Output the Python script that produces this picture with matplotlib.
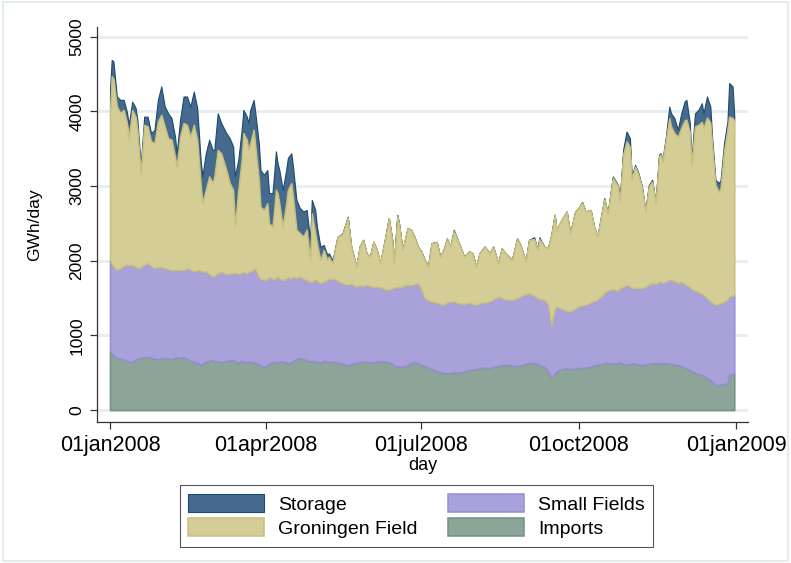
import matplotlib.pyplot as plt
from matplotlib.patches import Rectangle

plt.rcParams['font.family'] = ['Liberation Sans', 'DejaVu Sans']

# day of year (0 = 01jan2008)
days = [0, 1, 2, 4, 6, 8, 10, 11, 13, 15, 16, 18, 20, 22, 24, 26, 28, 30, 32, 34,
        36, 38, 39, 41, 43, 45, 47, 49, 51, 53, 54, 56, 58, 60, 61, 63, 65, 68, 70, 72,
        73, 75, 77, 78, 80, 81, 82, 84, 85, 87, 88, 90, 92, 93, 95, 96, 97, 98, 99, 101,
        103, 104, 106, 107, 109, 111, 113, 115, 117, 118, 120, 121, 123, 125, 127, 128, 130, 131, 133, 136,
        139, 141, 144, 146, 148, 150, 152, 154, 156, 158, 161, 163, 165, 166, 168, 169, 171, 174, 176, 178,
        180, 182, 184, 186, 188, 191, 193, 195, 197, 199, 201, 204, 207, 210, 212, 214, 216, 219, 222, 224,
        227, 229, 232, 235, 238, 240, 243, 245, 248, 250, 251, 254, 256, 258, 260, 261, 264, 267, 269, 272,
        274, 276, 278, 281, 283, 285, 288, 289, 291, 294, 297, 298, 300, 302, 304, 305, 307, 309, 311, 313,
        315, 317, 319, 321, 322, 323, 325, 327, 328, 330, 332, 334, 336, 337, 339, 340, 342, 344, 346, 347,
        349, 351, 352, 354, 356, 357, 359, 361, 362, 364, 365]

imports = [780, 760, 730, 700, 690, 680, 660, 650, 650, 670, 690, 700, 710, 715, 700, 690, 680, 700, 700, 690,
           680, 700, 710, 700, 715, 690, 660, 650, 640, 600, 620, 650, 660, 670, 660, 650, 640, 660, 670, 670,
           650, 640, 660, 650, 640, 650, 650, 640, 630, 610, 600, 580, 600, 620, 640, 650, 640, 630, 650, 650,
           640, 630, 640, 660, 680, 700, 680, 670, 650, 660, 650, 650, 640, 660, 650, 640, 650, 650, 640, 620,
           600, 620, 630, 640, 650, 650, 640, 630, 650, 660, 650, 640, 620, 600, 580, 590, 580, 600, 630, 640,
           625, 610, 590, 570, 550, 520, 510, 500, 490, 500, 510, 500, 520, 540, 540, 550, 560, 570, 560, 580,
           590, 600, 610, 600, 590, 600, 620, 630, 630, 620, 600, 580, 520, 440, 480, 520, 550, 560, 550, 560,
           570, 560, 570, 580, 600, 610, 620, 630, 630, 620, 630, 640, 620, 610, 620, 630, 620, 610, 600, 610,
           620, 630, 630, 630, 630, 620, 630, 620, 620, 610, 600, 590, 570, 560, 540, 520, 500, 480, 470, 460,
           430, 400, 380, 340, 335, 340, 350, 360, 470, 480, 490]

small_fields = [1230, 1200, 1190, 1180, 1210, 1250, 1290, 1290, 1295, 1250, 1210, 1210, 1240, 1250, 1230, 1210, 1240, 1210, 1200, 1200,
                1190, 1180, 1160, 1180, 1160, 1210, 1220, 1210, 1230, 1275, 1230, 1210, 1160, 1120, 1140, 1180, 1210, 1160, 1160, 1160,
                1190, 1180, 1180, 1200, 1190, 1200, 1205, 1240, 1270, 1170, 1160, 1160, 1160, 1160, 1120, 1100, 1130, 1160, 1110, 1090,
                1120, 1150, 1120, 1130, 1090, 1090, 1080, 1070, 1070, 1060, 1100, 1080, 1060, 1060, 1090, 1120, 1100, 1115, 1090, 1080,
                1080, 1070, 1025, 1030, 1010, 1030, 1020, 1020, 1005, 980, 970, 970, 1010, 1040, 1070, 1050, 1080, 1080, 1040, 1050,
                1075, 1010, 910, 900, 900, 920, 910, 910, 950, 950, 945, 930, 900, 900, 880, 860, 870, 870, 895, 900,
                930, 900, 870, 875, 910, 920, 930, 935, 900, 880, 890, 895, 900, 700, 870, 865, 810, 770, 770, 800,
                820, 840, 840, 860, 860, 865, 920, 940, 970, 1000, 970, 990, 1030, 1065, 1030, 1010, 1010, 1030, 1030, 1040,
                1060, 1070, 1060, 1090, 1090, 1080, 1090, 1120, 1120, 1120, 1100, 1130, 1120, 1115, 1110, 1100, 1100, 1100, 1090, 1080,
                1070, 1060, 1060, 1070, 1085, 1090, 1100, 1120, 1050, 1050, 1050]

groningen = [1940, 2510, 2520, 2190, 2080, 2090, 1890, 1700, 2075, 2010, 1850, 1260, 1870, 1835, 1670, 1675, 1945, 2045, 1900, 1750,
             1750, 1515, 1390, 1785, 1970, 1920, 1785, 1960, 1750, 1165, 920, 1090, 1310, 1250, 1330, 1655, 1590, 1395, 1210, 1120,
             620, 1130, 1510, 1860, 1790, 1635, 1720, 1875, 1630, 1305, 965, 940, 1010, 720, 700, 930, 1180, 1115, 1010, 720,
             1010, 1170, 1280, 1070, 645, 580, 565, 675, 290, 915, 620, 505, 310, 425, 270, 295, 215, 315, 590, 660,
             900, 500, 265, 520, 620, 420, 395, 605, 490, 325, 700, 960, 650, 325, 950, 850, 485, 755, 745, 630,
             490, 505, 510, 450, 785, 810, 635, 735, 850, 740, 945, 805, 635, 685, 680, 510, 670, 750, 645, 710,
             445, 665, 600, 535, 800, 690, 440, 715, 760, 645, 800, 715, 745, 1205, 1265, 1030, 1185, 1330, 1050, 1300,
             1315, 1380, 1250, 1240, 995, 850, 1160, 1250, 1035, 1490, 1400, 1160, 1770, 1925, 1870, 1450, 1630, 1510, 1350, 1010,
             1320, 1360, 1080, 1680, 1700, 1630, 1900, 2170, 2060, 1980, 1960, 2060, 2190, 2215, 2070, 1670, 2200, 2240, 2300, 2240,
             2420, 2390, 2120, 1610, 1500, 1550, 2020, 2280, 2410, 2380, 2340]

storage = [330, 220, 230, 130, 175, 135, 140, 180, 110, 115, 140, 110, 110, 130, 110, 175, 290, 380, 265, 335,
           290, 270, 180, 225, 355, 380, 400, 445, 425, 310, 360, 490, 490, 445, 355, 490, 405, 495, 600, 580,
           670, 400, 405, 310, 310, 360, 445, 400, 445, 490, 490, 470, 445, 405, 445, 490, 515, 400, 445, 490,
           445, 425, 400, 400, 400, 335, 335, 265, 270, 180, 310, 220, 180, 65, 70, 45, 45, 20, 0, 10,
           10, 0, 0, 0, 0, 0, 0, 0, 0, 0, 0, 0, 0, 0, 15, 10, 0, 0, 0, 0,
           0, 0, 0, 0, 0, 5, 0, 0, 10, 0, 15, 0, 0, 0, 0, 0, 0, 0, 0, 0,
           0, 0, 0, 0, 0, 0, 0, 0, 25, 0, 25, 0, 0, 0, 0, 0, 0, 0, 0, 0,
           0, 10, 0, 0, 0, 0, 5, 20, 0, 20, 15, 0, 65, 130, 120, 40, 25, 20, 15, 0,
           15, 25, 0, 20, 20, 20, 45, 155, 175, 200, 95, 195, 255, 265, 125, 60, 175, 200, 250, 195,
           280, 215, 105, 65, 120, 105, 105, 105, 450, 425, 50]

labels = ['Imports', 'Small Fields', 'Groningen Field', 'Storage']
fills = ['#8ca598', '#a8a1da', '#d4cd96', '#466a8e']
edges = ['#6f9282', '#968ed2', '#c8c07f', '#1c4a73']
widths = [1.1, 1.1, 1.1, 0.8]
zorders = [4, 4, 4, 3]

tick_days = [0, 91, 182, 274, 366]
tick_labels = ['01jan2008', '01apr2008', '01jul2008', '01oct2008', '01jan2009']

fig = plt.figure(figsize=(7.91, 5.63), dpi=100)
ax = fig.add_axes([0.1226, 0.2504, 0.823, 0.7016])

polys = ax.stackplot(days, imports, small_fields, groningen, storage,
                     colors=fills, labels=labels)
for p, ec, lw, z in zip(polys, edges, widths, zorders):
    p.set_edgecolor(ec)
    p.set_linewidth(lw)
    p.set_zorder(z)

ax.set_xlim(-7.6, 373)
ax.set_ylim(-160, 5130)
ax.set_yticks([0, 1000, 2000, 3000, 4000, 5000])
ax.set_xticks(tick_days)
ax.set_xticklabels(tick_labels, fontsize=15.5)
for t in ax.get_yticklabels():
    t.set_rotation(90)
    t.set_va('center')
    t.set_fontsize(12.5)

ax.yaxis.grid(True, color='#e6eef1', linewidth=2, zorder=0)
ax.set_axisbelow(True)
for s in ['top', 'right']:
    ax.spines[s].set_visible(False)
for s in ['left', 'bottom']:
    ax.spines[s].set_color('#333333')
    ax.spines[s].set_linewidth(0.9)
ax.tick_params(direction='out', length=5, color='#333333', width=0.9, pad=4)

ax.set_ylabel('GWh/day', fontsize=12.5, labelpad=20)
ax.set_xlabel('day', fontsize=13, labelpad=1)

h, l = ax.get_legend_handles_labels()
leg = fig.legend([h[i] for i in [3, 2, 1, 0]], [l[i] for i in [3, 2, 1, 0]],
                 loc='center', bbox_to_anchor=(0.5266, 0.0835), ncol=2,
                 fontsize=14, handlelength=3.9, handleheight=1.0, labelspacing=0.25,
                 columnspacing=1.6, handletextpad=0.7, borderpad=0.45,
                 fancybox=False, edgecolor='#555555', framealpha=1)
leg.get_frame().set_linewidth(0.8)

fig.patches.append(Rectangle((0.004, 0.004), 0.992, 0.992, transform=fig.transFigure,
                             fill=False, edgecolor='#e4ecef', linewidth=1.5))

plt.savefig('out.png', dpi=100)
plt.close()
